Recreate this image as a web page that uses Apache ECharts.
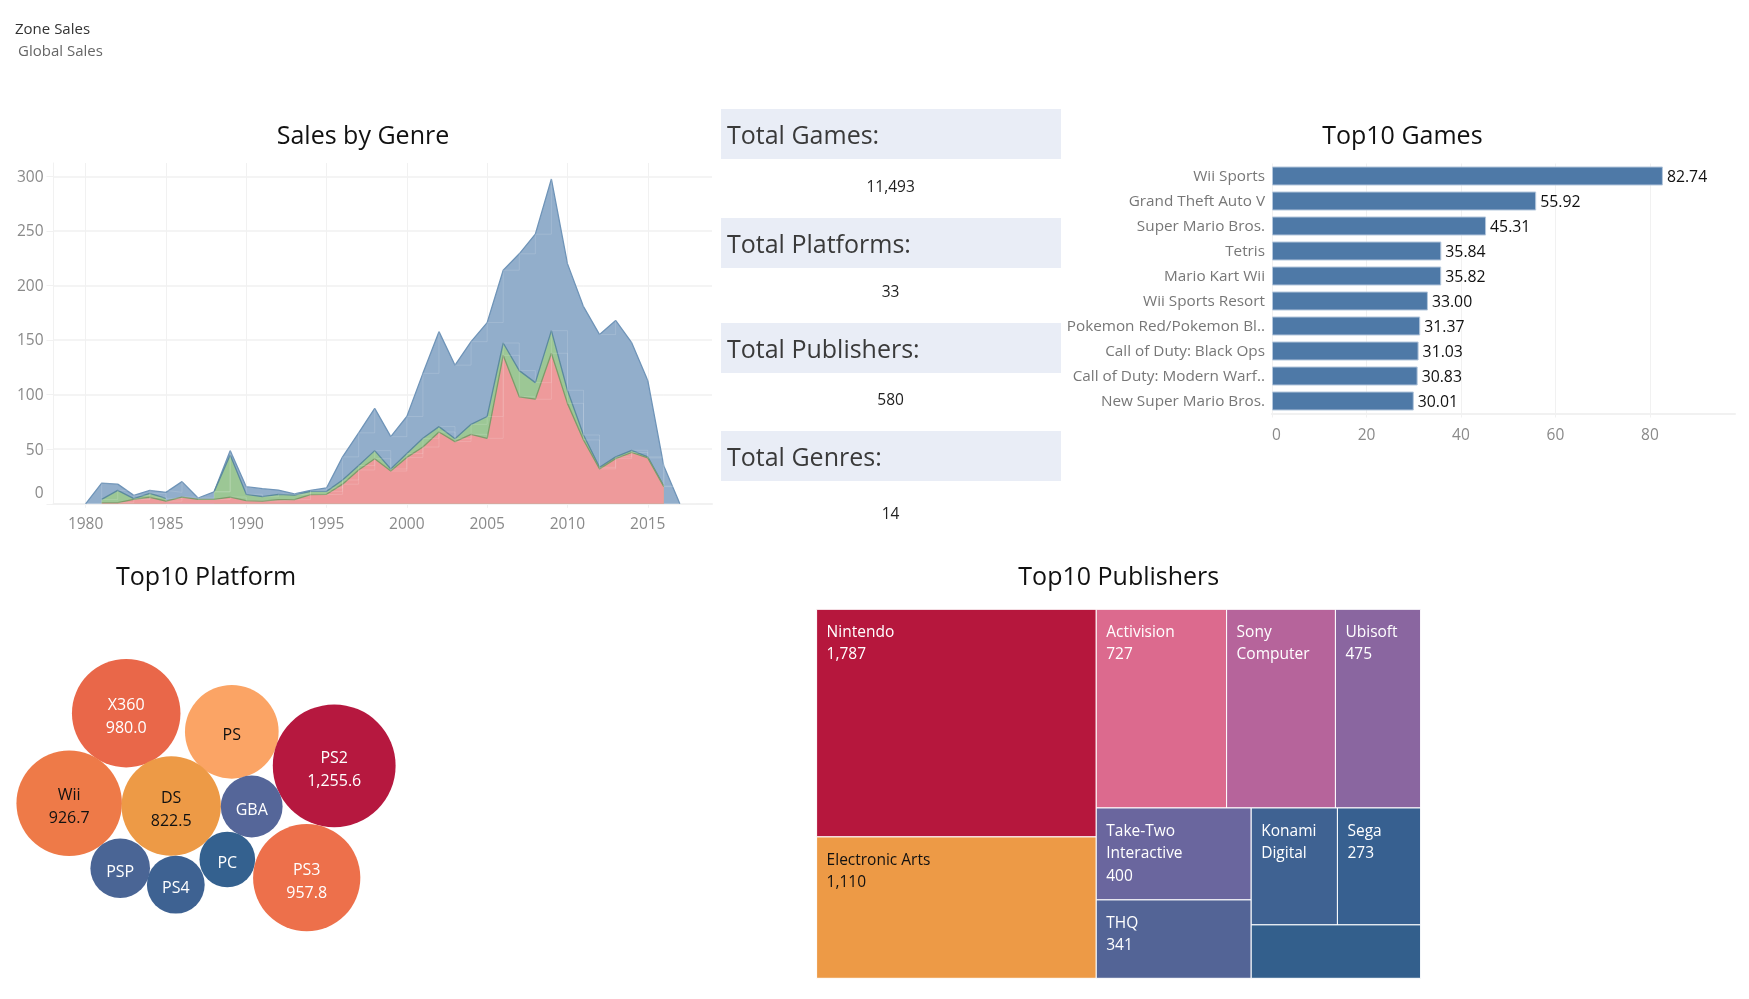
<!DOCTYPE html>
<html>
<head>
<meta charset="utf-8">
<style>html,body{margin:0;padding:0;background:#fff}#c{width:1749px;height:999px}</style>
<script src="https://cdn.jsdelivr.net/npm/echarts@6/dist/echarts.min.js"></script>
</head>
<body>
<div id="c"></div>
<script>
const years = [1978,1979,1980,1981,1982,1983,1984,1985,1986,1987,1988,1989,1990,1991,1992,1993,1994,1995,1996,1997,1998,1999,2000,2001,2002,2003,2004,2005,2006,2007,2008,2009,2010,2011,2012,2013,2014,2015,2016,2017,2018,2019];
const blueTop = [null,null,0,19,18,7.7,12.3,10.5,20.3,5.3,11,48.7,15.7,13.9,12.6,9,12.3,14.5,43,65,87.4,61.5,80,119.5,157.7,127,148.5,166,214,229,247,297.5,220,180.6,155,168,147.6,113,34.6,0,null,null];
const greenTop = [null,null,null,4,12.3,4.7,9.6,5,null,null,11,44.7,8.7,6.5,8.7,8,11.4,11.4,21.8,35,48.7,31.9,46,60,70.7,59.6,72.8,80,147.3,122,111,158.6,104,63,33.4,43,49,43,16.3,null,null,null];
const redTop = [null,null,null,1,1,4,6,2.5,6.2,4,4,6.2,2.9,2.5,3.8,3.8,8.4,8.7,18,31,41.3,30,42.5,52,65.8,57,63.6,60,136,98,95.8,137.9,92,58.5,32,41.4,47,42,15.7,null,null,null];

const gameNames = ["Wii Sports","Grand Theft Auto V","Super Mario Bros.","Tetris","Mario Kart Wii","Wii Sports Resort","Pokemon Red/Pokemon Bl..","Call of Duty: Black Ops","Call of Duty: Modern Warf..","New Super Mario Bros."];
const gameSales = [82.74,55.92,45.31,35.84,35.82,33.00,31.37,31.03,30.83,30.01];

const kpiLabels = ["Total Games:","Total Platforms:","Total Publishers:","Total Genres:"];
const kpiValues = ["11,493","33","580","14"];

const platformNames = ["X360","PS","PS2","Wii","DS","GBA","PSP","PS4","PC","PS3"];
const platformSales = [980.0,730.7,1255.6,926.7,822.5,318,296,278,258,957.8];
const platformLayoutX = [126.2,231.8,334.2,69.2,171.2,251.7,120.2,175.8,227.3,306.7];
const platformLayoutY = [113.2,131.8,165.8,203.2,206,206.5,268.2,284.7,259.5,277.7];
const platformColors = ["#e96749","#fba465","#b6183f","#ee7a48","#ed9a46","#556699","#4a6595","#3e6292","#34618f","#ed704b"];
const platformTextColors = ["#fff","#111","#fff","#111","#111","#fff","#fff","#fff","#fff","#fff"];

const publisherNames = ["Nintendo","Electronic Arts","Activision","Sony\nComputer","Ubisoft","Take-Two\nInteractive","THQ","Konami\nDigital","Sega","Namco Bandai"];
const publisherSales = [1787,1110,727,607,475,400,341,283,273,254];
const publisherValueShown = [true,true,true,false,true,true,true,false,true,false];
const publisherNameShown = [true,true,true,true,true,true,true,true,true,false];
const publisherColors = ["#b6173d","#ed9a46","#dc6a8e","#b6649b","#8a66a0","#6a669e","#536496","#3f6292","#376090","#335f8c"];
const publisherTextColors = ["#fff","#111","#fff","#fff","#fff","#fff","#fff","#fff","#fff","#fff"];
// slice-and-dice hierarchy: indexes into the publisher arrays
const publisherTree = ['h',['v',0,1],['v',['h',2,3,4],['h',['v',5,6],['v',['h',7,8],9]]]];

function treeSum(n){ return typeof n==='number' ? publisherSales[n] : n.slice(1).reduce((s,c)=>s+treeSum(c),0); }
const publisherRects = [];
(function layout(n,x0,y0,x1,y1){
  if(typeof n==='number'){ publisherRects.push([x0,y0,x1,y1,n]); return; }
  const tot=treeSum(n); let pos=n[0]==='h'?x0:y0;
  n.slice(1).forEach(c=>{
    const f=treeSum(c)/tot;
    if(n[0]==='h'){ const w=(x1-x0)*f; layout(c,pos,y0,pos+w,y1); pos+=w; }
    else { const h=(y1-y0)*f; layout(c,x0,pos,x1,pos+h); pos+=h; }
  });
})(publisherTree,0,0,1,1);

const FONT = '"Open Sans","Noto Sans",sans-serif';
const GRID = '#f1f1f1', AX = '#8a8a8a';
const fmt = v => v.toLocaleString('en-US');

const kpiTop = [109,218,323,431];
const kpiValueY = [187.5,292.5,401,515];
const graphic = [];
kpiLabels.forEach((t,i)=>{
  graphic.push({type:'rect',shape:{x:721,y:kpiTop[i],width:340,height:50},style:{fill:'#e9edf6'},silent:true});
  graphic.push({type:'text',x:727,y:kpiTop[i]+28,style:{text:t,fill:'#3a3a3a',font:'25px '+FONT,textAlign:'left',textVerticalAlign:'middle'},silent:true});
  graphic.push({type:'text',x:890.6,y:kpiValueY[i],style:{text:kpiValues[i],fill:'#222',font:'15.5px '+FONT,textAlign:'center',textVerticalAlign:'middle'},silent:true});
});
graphic.push({type:'text',x:15,y:30,style:{text:'Zone Sales',fill:'#333',font:'500 15px '+FONT,textAlign:'left',textVerticalAlign:'middle'},silent:true});
graphic.push({type:'text',x:18,y:52,style:{text:'Global Sales',fill:'#666',font:'15px '+FONT,textAlign:'left',textVerticalAlign:'middle'},silent:true});

const titleOf = (text,x,y)=>({text,left:x,top:y,textAlign:'center',textVerticalAlign:'middle',padding:0,
  textStyle:{fontFamily:FONT,fontSize:25,fontWeight:'normal',color:'#111'}});

const areaSeries = (name,data,fill,line,z)=>({name,type:'line',xAxisIndex:0,yAxisIndex:0,data,showSymbol:false,symbol:'none',
  connectNulls:false,lineStyle:{color:line,width:1.3},areaStyle:{color:fill,opacity:1},z,silent:true,animation:false});
const stepSeries = (name,data,z)=>({name,type:'line',xAxisIndex:0,yAxisIndex:0,data,step:'end',showSymbol:false,symbol:'none',
  lineStyle:{color:'rgba(255,255,255,0.14)',width:1},z,silent:true,animation:false});

const option = {
  animation:false,
  backgroundColor:'#fff',
  textStyle:{fontFamily:FONT},
  title:[
    titleOf('Sales by Genre',363,137),
    titleOf('Top10 Games',1402.4,137),
    titleOf('Top10 Platform',206,578),
    titleOf('Top10 Publishers',1118.8,578)
  ],
  graphic,
  grid:[
    {left:53.5,top:163,width:658.5,height:340.8},
    {left:1272,top:163.5,width:463,height:250},
    {left:0,top:600,width:400,height:399},
    {left:816.6,top:609.3,width:604,height:369}
  ],
  xAxis:[
    {gridIndex:0,type:'category',data:years.map(String),boundaryGap:false,
      axisLine:{show:true,lineStyle:{color:GRID,width:2}},
      axisTick:{show:true,alignWithLabel:true,length:4,lineStyle:{color:GRID},interval:(i,v)=>+v%5===0},
      axisLabel:{color:AX,fontSize:15.5,fontFamily:FONT,margin:13,interval:(i,v)=>+v%5===0},
      splitLine:{show:true,lineStyle:{color:GRID,width:1},interval:(i,v)=>+v%5===0}},
    {gridIndex:1,type:'value',min:0,max:98,interval:20,
      axisLine:{show:true,lineStyle:{color:GRID,width:2}},axisTick:{show:true,length:4,lineStyle:{color:GRID}},
      axisLabel:{color:AX,fontSize:15.5,fontFamily:FONT,margin:14,showMaxLabel:false,alignMinLabel:'left'},
      splitLine:{show:true,showMaxLine:false,lineStyle:{color:GRID,width:1}}},
    {gridIndex:2,type:'value',min:0,max:400,show:false},
    {gridIndex:3,type:'value',min:0,max:1,show:false}
  ],
  yAxis:[
    {gridIndex:0,type:'value',min:0,max:312.2,interval:50,
      axisLine:{show:true,lineStyle:{color:GRID,width:1}},
      axisTick:{show:true,length:7,lineStyle:{color:GRID}},
      axisLabel:{color:AX,fontSize:15.5,fontFamily:FONT,margin:10,showMaxLabel:false,verticalAlignMinLabel:'bottom',
        formatter:v=>v===0?'{z|0}':'{a|'+v+'}',
        rich:{a:{color:AX,fontSize:15.5,fontFamily:FONT,padding:[2,0,0,0]},z:{color:AX,fontSize:15.5,fontFamily:FONT,padding:[0,0,2,0]}}},
      splitLine:{show:true,showMaxLine:false,lineStyle:{color:GRID,width:1.5}}},
    {gridIndex:1,type:'category',data:gameNames,inverse:true,
      axisLine:{show:false},axisTick:{show:false},
      axisLabel:{fontSize:15.3,fontFamily:FONT,margin:7,formatter:v=>'{a|'+v+'}',
        rich:{a:{color:'#777',fontSize:15.3,fontFamily:FONT,padding:[2,0,0,0]}}}},
    {gridIndex:2,type:'value',min:0,max:399,inverse:true,show:false},
    {gridIndex:3,type:'value',min:0,max:1,inverse:true,show:false}
  ],
  series:[
    areaSeries('Total',blueTop,'#92aecb','#6f94b8',2),
    areaSeries('Middle',greenTop,'#9cc795','#5b8a9e',3),
    areaSeries('Lower',redTop,'#ee9a9b','#7d9c6a',4),
    stepSeries('Total steps',blueTop,5),
    stepSeries('Middle steps',greenTop,5),
    stepSeries('Lower steps',redTop,5),
    {name:'Top10 Games',type:'bar',xAxisIndex:1,yAxisIndex:1,data:gameSales,barWidth:19,
      itemStyle:{color:'#4e79a7',borderColor:'#b4c7dc',borderWidth:1},silent:true,
      label:{show:true,position:'right',distance:4,offset:[0,1],color:'#111',fontSize:15.8,fontFamily:FONT,formatter:p=>p.value.toFixed(2)}},
    {name:'Top10 Platform',type:'scatter',xAxisIndex:2,yAxisIndex:2,silent:true,
      symbolSize:v=>3.466*Math.sqrt(v[2]),
      data:platformNames.map((n,i)=>({name:n,value:[platformLayoutX[i],platformLayoutY[i],platformSales[i]],
        itemStyle:{color:platformColors[i],opacity:1},
        label:{color:platformTextColors[i]}})),
      label:{show:true,position:'inside',offset:[0,4],fontSize:16,fontFamily:FONT,lineHeight:23,
        formatter:p=>p.value[2]>=800?p.name+'\n'+p.value[2].toLocaleString('en-US',{minimumFractionDigits:1,maximumFractionDigits:1}):p.name}},
    {name:'Top10 Publishers',type:'custom',xAxisIndex:3,yAxisIndex:3,silent:true,clip:false,
      data:publisherRects,
      encode:{x:[0,2],y:[1,3]},
      renderItem:(params,api)=>{
        const a=api.coord([api.value(0),api.value(1)]),b=api.coord([api.value(2),api.value(3)]);
        const i=api.value(4);
        let txt='';
        if(publisherNameShown[i]){ txt=publisherNames[i]; if(publisherValueShown[i]) txt+='\n'+fmt(publisherSales[i]); }
        return {type:'group',children:[
          {type:'rect',shape:{x:a[0],y:a[1],width:b[0]-a[0],height:b[1]-a[1]},
            style:{fill:publisherColors[i],stroke:'#fff',lineWidth:1}},
          {type:'text',x:a[0]+10,y:a[1]+12,style:{text:txt,fill:publisherTextColors[i],font:'15.5px '+FONT,lineHeight:22.5,textAlign:'left',textVerticalAlign:'top'}}
        ]};
      }}
  ]
};
echarts.init(document.getElementById('c')).setOption(option);
</script>
</body>
</html>
